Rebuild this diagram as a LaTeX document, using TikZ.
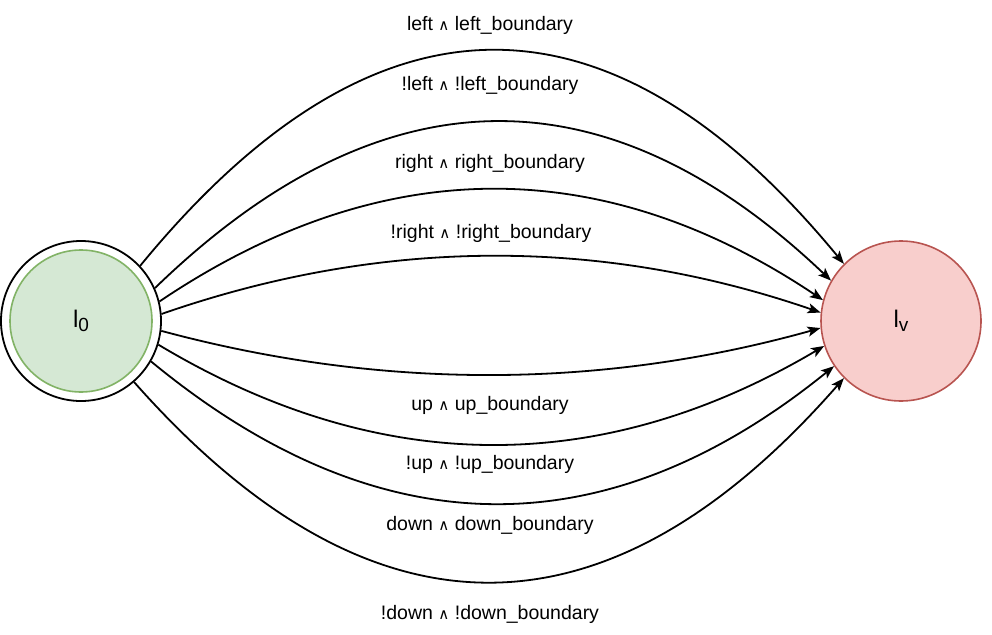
\documentclass[tikz,border=0pt]{standalone}
\usepackage{fontspec}
\setmainfont{Liberation Sans}
\newfontfamily\djv{DejaVu Sans}
\usetikzlibrary{arrows.meta,calc}
\newcommand\wedgesym{{\djv\fontsize{15}{15}\selectfont ∧}}
\newcommand\statelbl[2]{{\fontsize{24}{28}\selectfont #1\raisebox{-4pt}{\fontsize{19}{19}\selectfont #2}}}
\tikzset{
  lbl/.style={font=\fontsize{19.5}{23}\selectfont, anchor=base, inner sep=0pt},
  edge/.style={line width=1.8pt, -{Stealth[length=13pt,width=10pt,inset=3pt]}},
  outerstate/.style={circle, draw=black, fill=white, line width=1.8pt, minimum size=160pt, inner sep=0pt},
  initstate/.style={circle, draw={rgb,255:red,130;green,179;blue,102}, fill={rgb,255:red,213;green,232;blue,212}, line width=1.6pt, minimum size=142pt, inner sep=0pt},
  finalstate/.style={circle, draw={rgb,255:red,184;green,84;blue,80}, fill={rgb,255:red,248;green,206;blue,204}, line width=1.6pt, minimum size=160pt, inner sep=0pt},
}
\begin{document}
\begin{tikzpicture}[x=1pt,y=-1pt]
\useasboundingbox (0,0) rectangle (992,634);
\node[outerstate] (l0o) at (81,321) {};
\node[initstate] (l0) at (81,321) {\statelbl{l}{0}};
\node[finalstate] (lv) at (901,321) {\statelbl{l}{v}};
% quadratic control points
\coordinate (q1) at (492,-163.5);
\coordinate (q2) at (494,-40.5);
\coordinate (q3) at (491.5,78);
\coordinate (q4) at (491.5,199);
\coordinate (q5) at (492,420);
\coordinate (q6) at (490,543.5);
\coordinate (q7) at (492.5,643);
\coordinate (q8) at (489,783.5);
\foreach \i/\a/\b in {1/43.5/135, 2/24.7/150, 3/14.5/165, 4/5.6/174.4, 5/-7.5/185, 6/-17.8/198, 7/-30/214, 8/-49.5/225}{
  \draw[edge] (l0o.\a) .. controls ($(l0o.\a)!0.6667!(q\i)$) and ($(lv.\b)!0.6667!(q\i)$) .. (lv.\b);
}
\node[lbl] (t1) at (490,31) {left \wedgesym{} left\_boundary};
\node[lbl] (t2) at (490,90) {!left \wedgesym{} !left\_boundary};
\node[lbl] (t3) at (490,168) {right \wedgesym{} right\_boundary};
\node[lbl] (t4) at (491,238) {!right \wedgesym{} !right\_boundary};
\node[lbl] (t5) at (490,410) {up \wedgesym{} up\_boundary};
\node[lbl] (t6) at (490,469) {!up \wedgesym{} !up\_boundary};
\node[lbl] (t7) at (490,530) {down \wedgesym{} down\_boundary};
\node[lbl] (t8) at (490,619) {!down \wedgesym{} !down\_boundary};
\end{tikzpicture}
\end{document}
